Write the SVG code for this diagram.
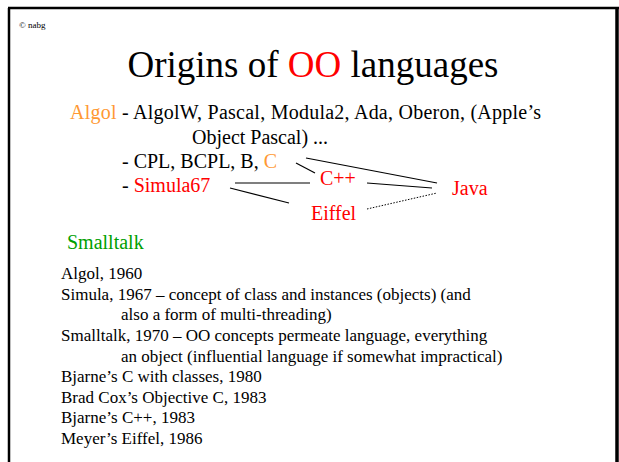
<svg xmlns="http://www.w3.org/2000/svg" width="619" height="462" viewBox="0 0 619 462" font-family="'Liberation Serif', 'Times New Roman', serif">
  <style>
    text { font-family: "Liberation Serif", "Times New Roman", serif; fill: #000; }
    .title { font-size: 37px; }
    .tree { font-size: 20px; }
    .notes { font-size: 17px; }
    .orange { fill: #FF9933; }
    .red { fill: #FF0000; }
    .green { fill: #00A000; }
    .link { stroke: #000; stroke-width: 1.2; fill: none; }
    .dotted { stroke: #000; stroke-width: 1; stroke-dasharray: 1.5 1.5; fill: none; }
  </style>
  <rect width="619" height="462" fill="#fff"/>
  <!-- slide frame -->
  <g id="frame">
    <line x1="8" y1="8" x2="619" y2="8" stroke="#000" stroke-width="2.5"/>
    <line x1="9" y1="8" x2="9" y2="462" stroke="#000" stroke-width="2.5"/>
    <line x1="617" y1="8" x2="617" y2="462" stroke="#000" stroke-width="3.5"/>
  </g>
  <text x="19" y="28" font-size="9">© nabg</text>
  <text class="title" x="313" y="77" text-anchor="middle">Origins of <tspan class="red">OO</tspan> languages</text>

  <g id="algol"><text class="tree" x="70" y="119" textLength="471" lengthAdjust="spacing"><tspan class="orange">Algol</tspan> - AlgolW, Pascal, Modula2, Ada, Oberon, (Apple’s</text>
    <text class="tree" x="192" y="144">Object Pascal) ...</text></g>
  <g id="c-line"><text class="tree" x="122" y="168">- CPL, BCPL, B, <tspan class="orange">C</tspan></text></g>
  <g id="simula"><text class="tree" x="122" y="192">- <tspan class="red">Simula67</tspan></text></g>
  <g id="cpp"><text class="tree red" x="320" y="185">C++</text></g>
  <g id="eiffel"><text class="tree red" x="311" y="220">Eiffel</text></g>
  <g id="java"><text class="tree red" x="452" y="195">Java</text></g>
  <g id="smalltalk"><text class="tree green" x="67" y="249">Smalltalk</text></g>

  <g id="connectors">
    <line class="link" x1="296" y1="163" x2="315" y2="173"/>
    <line class="link" x1="306" y1="158" x2="437" y2="183"/>
    <line class="link" x1="235" y1="183" x2="310" y2="183"/>
    <line class="link" x1="230" y1="188" x2="289" y2="203"/>
    <line class="link" x1="367" y1="183" x2="432" y2="188"/>
    <line class="dotted" x1="367" y1="209" x2="437" y2="193"/>
  </g>

  <g id="notes" class="notes">
    <text x="61" y="279">Algol, 1960</text>
    <text x="61" y="299.5">Simula, 1967 – concept of class and instances (objects) (and</text>
    <text x="121" y="320">also a form of multi-threading)</text>
    <text x="61" y="341">Smalltalk, 1970 – OO concepts permeate language, everything</text>
    <text x="121" y="361.5">an object (influential language if somewhat impractical)</text>
    <text x="61" y="382">Bjarne’s C with classes, 1980</text>
    <text x="61" y="402.5">Brad Cox’s Objective C, 1983</text>
    <text x="61" y="423">Bjarne’s C++, 1983</text>
    <text x="61" y="443.5">Meyer’s Eiffel, 1986</text>
  </g>
</svg>
